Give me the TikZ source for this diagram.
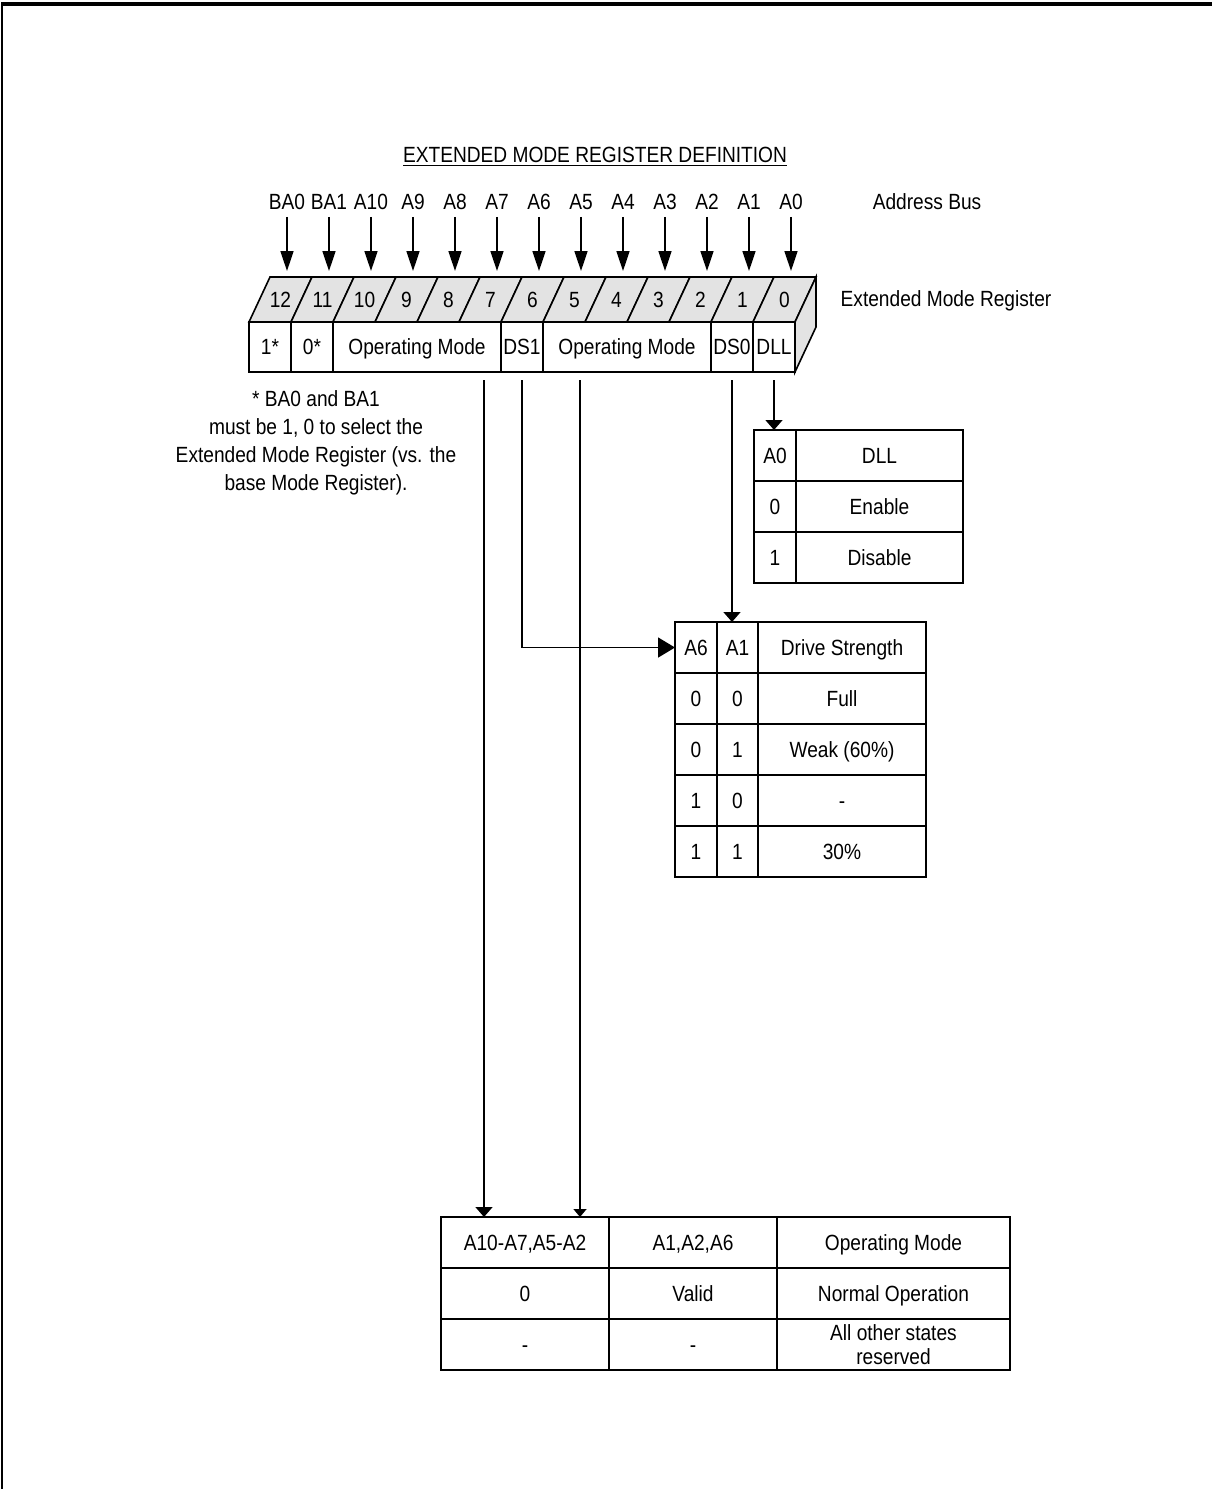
\documentclass[tikz,border=0pt]{standalone}
\usepackage{fontspec}
\setmainfont[FakeStretch=0.87]{Liberation Sans}
\usetikzlibrary{positioning,calc,arrows.meta}

\begin{document}
\begin{tikzpicture}[
    x=0.5pt, y=-0.5pt,
    font=\fontsize{11}{13}\selectfont,
    box/.style={draw, line width=0.8pt, inner sep=0pt, outer sep=0pt, minimum height=25.5pt, text centered},
    cell/.style={box, text height=7.9pt, text depth=0pt},
    regcell/.style={cell, minimum height=25pt},
    face/.style={draw, line width=0.8pt, fill=black!11},
    line/.style={draw, line width=0.8pt},
    addr/.style={line, -{Triangle[length=10pt,width=6.5pt]}},
    tap/.style={line, shorten <=4pt, -{Triangle[length=5pt,width=8.5pt]}}
]
    \useasboundingbox (0,0) rectangle (1212,1489);
    % page frame (top and left only)
    \draw[line width=2pt] (1,4) -- (1212,4);
    \draw[line width=1pt] (2,4) -- (2,1489);

    \node (title) at (595,157) {\underline{EXTENDED MODE REGISTER DEFINITION}};

    % register, front row
    \node[regcell, minimum width=21pt, anchor=north west] (r12) at (249,322) {1*};
    \node[regcell, minimum width=21pt, right=0pt of r12] (r11) {0*};
    \node[regcell, minimum width=84pt, right=0pt of r11] (opA) {Operating Mode};
    \node[regcell, minimum width=21pt, right=0pt of opA] (ds1) {DS1};
    \node[regcell, minimum width=84pt, right=0pt of ds1] (opB) {Operating Mode};
    \node[regcell, minimum width=21pt, right=0pt of opB] (ds0) {DS0};
    \node[regcell, minimum width=21pt, right=0pt of ds0] (dll) {DLL};

    % register, top face with bit numbers
    \foreach \b [count=\k from 0] in {12,11,...,0} {
        \filldraw[face] (249+42*\k,322) -- ++(42,0) -- ++(21,-45) -- ++(-42,0) -- cycle;
        \node[text height=7.9pt, text depth=0pt] (t\b) at (280.5+42*\k,299.5) {\b};
    }
    % register, side face
    \filldraw[face] (dll.north east) -- ++(21,-45) -- ++(0,50) -- (dll.south east) -- cycle;

    % address bus
    \foreach \b [count=\k from 0] in {BA0,BA1,A10,A9,A8,A7,A6,A5,A4,A3,A2,A1,A0} {
        \node[text height=7.9pt, text depth=0pt] (a\b) at (287+42*\k,202) {\b};
        \coordinate (p\b) at (287+42*\k,271);
        \draw[addr] (a\b) -- (p\b);
    }
    \node (bus) at (927,202) {Address Bus};
    \node (emr) at (946,301) {Extended Mode Register};

    \node[align=center, font=\fontsize{11}{14}\selectfont] (note) at (316,443)
        {* BA0 and BA1\\must be 1, 0 to select the\\Extended Mode Register (vs. the\\base Mode Register).};

    % DLL table
    \node[cell, minimum width=21pt, anchor=north west] (d0a) at (754,430) {A0};
    \node[cell, minimum width=83.5pt, right=0pt of d0a] (d0b) {DLL};
    \node[cell, minimum width=21pt, below=0pt of d0a] (d1a) {0};
    \node[cell, minimum width=83.5pt, right=0pt of d1a] (d1b) {Enable};
    \node[cell, minimum width=21pt, below=0pt of d1a] (d2a) {1};
    \node[cell, minimum width=83.5pt, right=0pt of d2a] (d2b) {Disable};

    % drive strength table
    \node[cell, minimum width=21pt, anchor=north west] (s0a) at (675,622) {A6};
    \node[cell, minimum width=20.5pt, right=0pt of s0a] (s0b) {A1};
    \node[cell, minimum width=84pt, right=0pt of s0b] (s0c) {Drive Strength};
    \foreach \p/\q/\v [count=\r] in {0/0/Full, 0/1/Weak (60\%), 1/0/-, 1/1/30\%} {
        \pgfmathtruncatemacro\prev{\r-1}
        \node[cell, minimum width=21pt, below=0pt of s\prev a] (s\r a) {\p};
        \node[cell, minimum width=20.5pt, right=0pt of s\r a] (s\r b) {\q};
        \node[cell, minimum width=84pt, right=0pt of s\r b] (s\r c) {\v};
    }

    % operating mode table
    \node[cell, minimum width=84pt, anchor=north west] (o0a) at (441,1217) {A10-A7,A5-A2};
    \node[cell, minimum width=84pt, right=0pt of o0a] (o0b) {A1,A2,A6};
    \node[cell, minimum width=116.5pt, right=0pt of o0b] (o0c) {Operating Mode};
    \node[cell, minimum width=84pt, below=0pt of o0a] (o1a) {0};
    \node[cell, minimum width=84pt, right=0pt of o1a] (o1b) {Valid};
    \node[cell, minimum width=116.5pt, right=0pt of o1b] (o1c) {Normal Operation};
    \node[cell, minimum width=84pt, below=0pt of o1a] (o2a) {-};
    \node[cell, minimum width=84pt, right=0pt of o2a] (o2b) {-};
    \node[box, minimum width=116.5pt, right=0pt of o2b, align=center,
          font=\fontsize{11}{12}\selectfont] (o2c) {All other states\\reserved};

    % connectors
    \draw[tap] (dll.south) -- (dll.south |- d0a.north);
    \draw[tap] (ds0.south) -- (ds0.south |- s0b.north);
    \draw[line, shorten <=4pt, -{Triangle[length=8.5pt,width=10pt]}] (ds1.south) |- (s0a.west);
    \draw[tap] ([xshift=33.5pt]opA.south) -- ([xshift=33.5pt]opA.south |- o0a.north);
    \draw[line, shorten <=4pt, -{Triangle[length=4pt,width=6.5pt]}] ([xshift=-23.5pt]opB.south) -- ([xshift=-23.5pt]opB.south |- o0b.north);
\end{tikzpicture}
\end{document}
